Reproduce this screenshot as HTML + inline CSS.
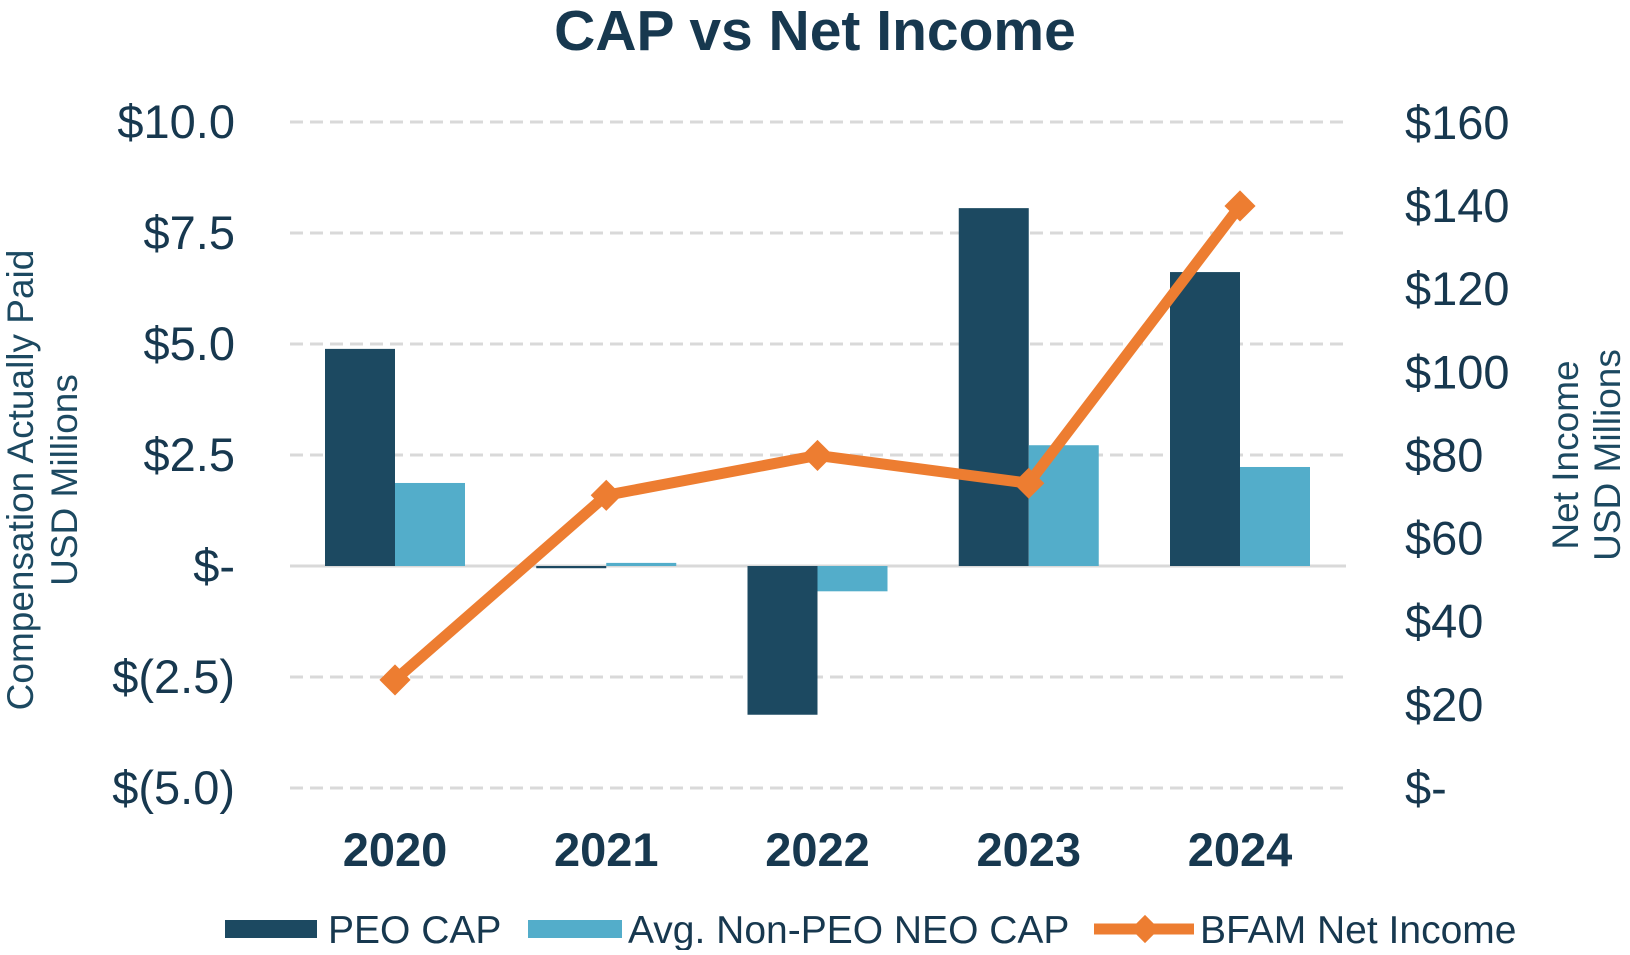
<!DOCTYPE html>
<html><head><meta charset="utf-8"><style>
html,body{margin:0;padding:0;background:#fff;}
svg text{font-family:"Liberation Sans",Arial,sans-serif;fill:#17384f;}
</style></head><body>
<svg id="chart" width="1630" height="950" viewBox="0 0 1630 950" xmlns="http://www.w3.org/2000/svg">
<text x="815" y="50" font-size="57" font-weight="bold" text-anchor="middle">CAP vs Net Income</text>
<g id="grid"></g><g id="bars"></g><g id="line"></g><g id="axes"></g>
<text transform="translate(33,480) rotate(-90)" font-size="37" text-anchor="middle" style="fill:#1c4961">Compensation Actually Paid</text>
<text transform="translate(77,480) rotate(-90)" font-size="37" text-anchor="middle" style="fill:#1c4961">USD Millions</text>
<text transform="translate(1578,455) rotate(-90)" font-size="37" text-anchor="middle" style="fill:#1c4961">Net Income</text>
<text transform="translate(1620,455) rotate(-90)" font-size="37" text-anchor="middle" style="fill:#1c4961">USD Millions</text>
<g>
<rect x="225" y="920" width="92" height="18" fill="#1c4961"/>
<text x="328" y="943" font-size="39">PEO CAP</text>
<rect x="528" y="920" width="94" height="18" fill="#53adca"/>
<text x="628" y="943" font-size="39">Avg. Non-PEO NEO CAP</text>
<line x1="1094" y1="929" x2="1194" y2="929" stroke="#ed7d31" stroke-width="11"/>
<rect x="1135" y="919" width="20" height="20" fill="#ed7d31" transform="rotate(45 1145 929)"/>
<text x="1200" y="943" font-size="39">BFAM Net Income</text>
</g>
</svg>
<script>
const years = ["2020","2021","2022","2023","2024"];
const peoCap = [4.89, -0.05, -3.35, 8.06, 6.62];
const neoCap = [1.87, 0.07, -0.57, 2.72, 2.23];
const netIncome = [26, 70.4, 80, 73.3, 140];
const leftTicks = [10, 7.5, 5, 2.5, 0, -2.5, -5];
const leftTickLabels = ["$10.0","$7.5","$5.0","$2.5","$-","$(2.5)","$(5.0)"];
const rightTicks = [160,140,120,100,80,60,40,20,0];
const rightTickLabels = ["$160","$140","$120","$100","$80","$60","$40","$20","$-"];

const NS="http://www.w3.org/2000/svg";
const plotL=290, plotR=1346;
const yL=v=>566-v*44.4;
const yR=v=>788-v*4.1575;
const xC=i=>395+i*211.25;
function mk(tag,attrs,parent){const e=document.createElementNS(NS,tag);for(const k in attrs)e.setAttribute(k,attrs[k]);document.getElementById(parent).appendChild(e);return e;}

leftTicks.forEach((t,i)=>{
  if(t!==0){const g=mk('line',{x1:plotL,x2:plotR,y1:yL(t),y2:yL(t),stroke:'#d9d9d9','stroke-width':3,'stroke-dasharray':'13 7'},'grid');
  
  }
  const tx=mk('text',{x:235,y:yL(t)+16,'font-size':47,'text-anchor':'end'},'axes');tx.textContent=leftTickLabels[i];
  
  
});
rightTicks.forEach((t,i)=>{
  const tx=mk('text',{x:1405,y:yR(t)+16,'font-size':47},'axes');tx.textContent=rightTickLabels[i];
  
  
});
years.forEach((y,i)=>{
  const tx=mk('text',{x:xC(i),y:866,'font-size':47,'font-weight':'bold','text-anchor':'middle'},'axes');tx.textContent=y;
  
  
  [[peoCap,'#1c4961',-70,'bar-peo-cap'],[neoCap,'#53adca',0,'bar-neo-cap']].forEach(([arr,c,off,nm])=>{
    const v=arr[i];const y0=yL(0),y1=yL(v);
    const r=mk('rect',{x:xC(i)+off,y:Math.min(y0,y1),width:70,height:Math.max(Math.abs(y1-y0),2),fill:c},'bars');
    
    
  });
});
const zl=mk('line',{x1:plotL,x2:plotR,y1:yL(0),y2:yL(0),stroke:'#d9d9d9','stroke-width':3},'grid');


const pts=netIncome.map((v,i)=>xC(i)+','+yR(v)).join(' ');
const pl=mk('polyline',{points:pts,fill:'none',stroke:'#ed7d31','stroke-width':11,'stroke-linejoin':'round'},'line');


netIncome.forEach((v,i)=>{
  const x=xC(i),y=yR(v);
  const m=mk('rect',{x:x-11,y:y-11,width:22,height:22,fill:'#ed7d31',transform:`rotate(45 ${x} ${y})`},'line');
  
  
});
</script>
</body></html>
